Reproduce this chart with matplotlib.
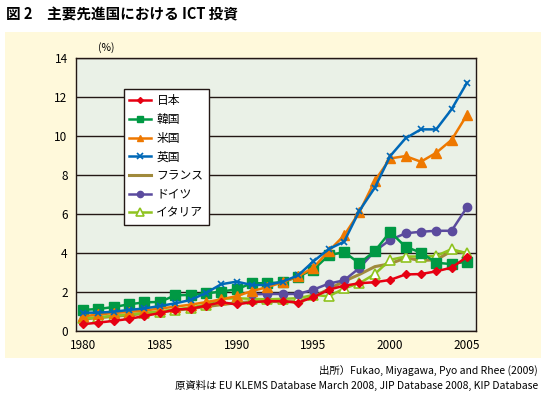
import numpy as np
import matplotlib.pyplot as plt
from matplotlib.patches import Rectangle

plt.rcParams['font.family'] = ['Noto Sans CJK JP', 'DejaVu Sans']

years = np.arange(1980, 2006)
years_de = np.arange(1991, 2006)

japan = [0.35, 0.43, 0.52, 0.62, 0.77, 0.92, 1.10, 1.14, 1.30, 1.48, 1.36, 1.48, 1.53,
         1.53, 1.46, 1.73, 2.12, 2.32, 2.45, 2.50, 2.62, 2.90, 2.92, 3.06, 3.25, 3.80]
korea = [1.08, 1.13, 1.23, 1.37, 1.47, 1.49, 1.83, 1.85, 1.93, 2.02, 2.14, 2.45, 2.45,
         2.50, 2.79, 3.15, 3.88, 4.05, 3.47, 4.10, 5.08, 4.32, 4.02, 3.50, 3.43, 3.56]
usa = [0.75, 0.85, 0.92, 0.98, 1.05, 1.15, 1.25, 1.35, 1.48, 1.62, 1.79, 2.05, 2.25,
       2.50, 2.80, 3.25, 4.10, 4.90, 6.10, 7.70, 8.85, 8.97, 8.68, 9.14, 9.80, 11.08]
uk = [0.94, 0.94, 0.99, 1.08, 1.16, 1.28, 1.42, 1.59, 1.95, 2.40, 2.53, 2.36, 2.36,
      2.53, 2.85, 3.57, 4.20, 4.58, 6.17, 7.35, 8.97, 9.88, 10.34, 10.34, 11.37, 12.73]
france = [0.62, 0.68, 0.75, 0.82, 0.90, 0.98, 1.06, 1.15, 1.25, 1.35, 1.45, 1.50, 1.52,
          1.50, 1.50, 1.75, 2.15, 2.55, 2.90, 3.30, 3.45, 3.75, 3.62, 3.65, 4.10, 4.00]
germany = [1.88, 1.90, 1.90, 1.90, 2.12, 2.43, 2.60, 3.23, 4.10, 4.67, 5.01, 5.09,
           5.14, 5.14, 6.34]
italy = [0.65, 0.70, 0.78, 0.85, 0.92, 1.00, 1.10, 1.20, 1.35, 1.65, 1.68, 1.65, 1.62,
         1.65, 1.68, 1.85, 1.78, 2.18, 2.45, 2.92, 3.65, 3.82, 3.82, 3.85, 4.20, 3.98]

fig = plt.figure(figsize=(5.41, 3.97), dpi=100)
# pale yellow panel behind the chart
fig.patches.append(Rectangle((5 / 541, 1 - 358 / 397), 536 / 541, 326 / 397,
                             transform=fig.transFigure, facecolor='#FFF9DB',
                             edgecolor='none', zorder=-5))

ax = fig.add_axes([76 / 541, 1 - 331 / 397, 400 / 541, 273 / 397])
ax.set_zorder(2)
ax.set_facecolor('#EAF1E7')
ax.set_xlim(1979.54, 2005.59)
ax.set_ylim(0, 14)
ax.set_xticks([1980, 1985, 1990, 1995, 2000, 2005])
ax.set_yticks(range(0, 15, 2))
ax.tick_params(length=0, labelsize=8.5, pad=6)
ax.yaxis.grid(True, color='#231815', linewidth=1)
ax.set_axisbelow(True)
for s in ax.spines.values():
    s.set_linewidth(1)
    s.set_color('#231815')

lw = 1.8
ax.plot(years, france, color='#A08A3C', lw=2.2, label='フランス', zorder=3)
ax.plot(years, italy, color='#8FC31F', lw=lw, marker='^', ms=7, mfc='white',
        mec='#8FC31F', mew=1.2, label='イタリア', zorder=3)
ax.plot(years_de, germany, color='#5B4B9E', lw=lw, marker='o', ms=6, label='ドイツ', zorder=4)
ax.plot(years, korea, color='#009944', lw=lw, marker='s', ms=6.5, label='韓国', zorder=4)
ax.plot(years, usa, color='#EE7800', lw=lw, marker='^', ms=6.5, label='米国', zorder=5)
ax.plot(years, uk, color='#0068B7', lw=lw, marker='x', ms=5, mew=1.2, label='英国', zorder=6)
ax.plot(years, japan, color='#E60012', lw=lw, marker='D', ms=4, label='日本', zorder=7)

h, l = ax.get_legend_handles_labels()
order = ['日本', '韓国', '米国', '英国', 'フランス', 'ドイツ', 'イタリア']
hh = [h[l.index(n)] for n in order]
leg = ax.legend(hh, order, loc='upper left', bbox_to_anchor=(0.12, 0.886),
                fontsize=8.5, frameon=True, fancybox=False, borderpad=0.45,
                handlelength=1.8, labelspacing=0.48, handletextpad=0.5,
                borderaxespad=0, markerscale=0.75)
leg.get_frame().set_edgecolor('#231815')
leg.get_frame().set_linewidth(1)
leg.get_frame().set_facecolor('white')
leg.get_frame().set_alpha(1)

ax.text(0.055, 1.02, '(%)', transform=ax.transAxes, fontsize=7.5, ha='left', va='bottom')

fig.text(6 / 541, 1 - 14 / 397, '図 2　主要先進国における ICT 投資', fontsize=10.5,
         fontweight='bold', ha='left', va='center')
fig.text(538 / 541, 1 - 370 / 397, '出所）Fukao, Miyagawa, Pyo and Rhee (2009)',
         fontsize=7.5, ha='right', va='center')
fig.text(538 / 541, 1 - 385 / 397,
         '原資料は EU KLEMS Database March 2008, JIP Database 2008, KIP Database',
         fontsize=7.5, ha='right', va='center')

fig.savefig('out.png', dpi=100)
